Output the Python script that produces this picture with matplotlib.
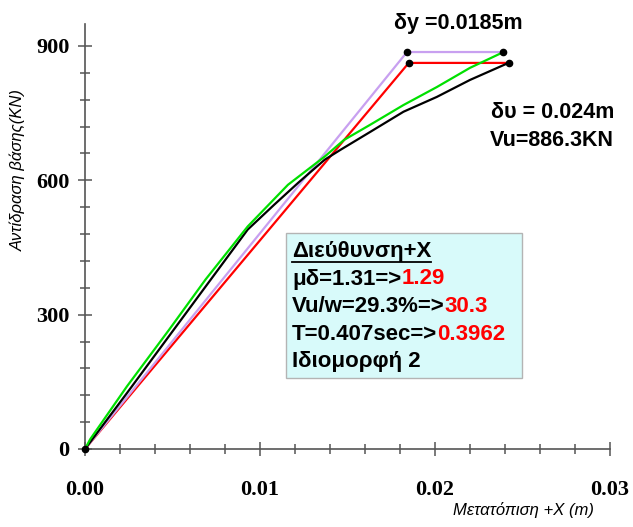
import matplotlib
matplotlib.use("Agg")
import matplotlib.pyplot as plt
from matplotlib.patches import Rectangle
from matplotlib.lines import Line2D
from matplotlib.ticker import MultipleLocator

# καμπύλη pushover (μαύρη) και εναλλακτική καμπύλη (πράσινη)
disp_black = [0.0, 0.0024, 0.0048, 0.0072, 0.0093, 0.0108, 0.0122, 0.0137, 0.0146,
              0.0163, 0.0182, 0.0201, 0.0220, 0.0242]
base_black = [0, 125, 252, 379, 490, 545, 595, 646, 668, 708, 753, 786, 824, 862]

disp_green = [0.0, 0.0003, 0.0024, 0.0048, 0.0069, 0.0093, 0.0116, 0.0137, 0.0148,
              0.0163, 0.0182, 0.0201, 0.0220, 0.0239]
base_green = [0, 22, 140, 266, 379, 497, 590, 653, 690, 724, 768, 808, 851, 886]

# διγραμμικές προσεγγίσεις
disp_purple = [0.0, 0.0184, 0.0239]
base_purple = [0, 886.3, 886.3]
disp_red = [0.0, 0.0185, 0.0242]
base_red = [0, 862, 862]

x_ticks = [0.00, 0.01, 0.02, 0.03]
y_ticks = [0, 300, 600, 900]

W, H = 633, 527
fig = plt.figure(figsize=(W / 100, H / 100), dpi=100)
fig.patch.set_facecolor("white")


def fx(px):
    return px / W


def fy(py):
    return 1 - py / H


ax = fig.add_axes([fx(85), fy(449), (610 - 85) / W, (449 - 23.5) / H])
ax.set_xlim(0, 0.03)
ax.set_ylim(0, 950)

ax.plot(disp_red, base_red, color="#ff0000", lw=1.6, zorder=3)
ax.plot(disp_purple, base_purple, color="#c8a0f0", lw=1.6, zorder=3)
ax.plot(disp_black, base_black, color="black", lw=1.6, zorder=4)
ax.plot(disp_green, base_green, color="#00e000", lw=1.6, zorder=5)

dots_x = [0.0, disp_purple[1], disp_purple[2], disp_red[1], disp_red[2]]
dots_y = [0, base_purple[1], base_purple[2], base_red[1], base_red[2]]
ax.plot(dots_x, dots_y, "o", color="black", ms=4.5, zorder=6, clip_on=False)

for s in ["top", "right"]:
    ax.spines[s].set_visible(False)
for s in ["left", "bottom"]:
    ax.spines[s].set_color("#555555")
    ax.spines[s].set_linewidth(1.2)

ax.set_xticks(x_ticks)
ax.set_yticks(y_ticks)
ax.set_xticklabels(["%.2f" % v for v in x_ticks])
ax.xaxis.set_minor_locator(MultipleLocator(0.002))
ax.yaxis.set_minor_locator(MultipleLocator(60))
ax.tick_params(which="major", direction="inout", length=10, width=1.1, color="#555555")
ax.tick_params(which="minor", direction="inout", length=7, width=1.1, color="#555555")
ax.tick_params(axis="x", which="major", pad=17)
ax.tick_params(axis="y", which="major", pad=6)
for lab in ax.get_xticklabels() + ax.get_yticklabels():
    lab.set_fontfamily("Liberation Serif")
    lab.set_fontweight("bold")
    lab.set_fontsize(16)

fig.text(fx(523), fy(510), "Μετατόπιση +X (m)", fontfamily="Liberation Sans",
         style="italic", fontsize=12, ha="center", va="center")
fig.text(fx(18), fy(170), "Αντίδραση βάσης(KN)", fontfamily="Liberation Sans",
         style="italic", fontsize=12, ha="center", va="center", rotation=90)

bold = dict(fontfamily="Liberation Sans", fontweight="bold", fontsize=15.5)
fig.text(fx(458), fy(23), "δy =0.0185m", ha="center", va="center", **bold)
fig.text(fx(553), fy(113), "δυ = 0.024m", ha="center", va="center", **bold)
fig.text(fx(552), fy(140), "Vu=886.3KN", ha="center", va="center", **bold)

# πλαίσιο αποτελεσμάτων
box = Rectangle((fx(286), fy(378)), (522 - 286) / W, (378 - 233) / H,
                transform=fig.transFigure, facecolor="#d8fafa",
                edgecolor="#b4b4b4", lw=1.0, zorder=1)
fig.patches.append(box)

box_font = dict(fontfamily="Liberation Sans", fontweight="bold", fontsize=16)
lines = [("Διεύθυνση+Χ", ""), ("μδ=1.31=>", "1.29"), ("Vu/w=29.3%=>", "30.3"),
         ("T=0.407sec=>", "0.3962"), ("Ιδιομορφή 2", "")]
line_y = [252, 279, 306, 334, 362]
texts = []
for (black_part, _), py in zip(lines, line_y):
    t = fig.text(fx(292), fy(py), black_part, ha="left", va="center",
                 color="black", zorder=2, **box_font)
    texts.append(t)

fig.canvas.draw()
# οι κόκκινες τιμές ακριβώς μετά το μαύρο κείμενο
for t, (_, red_part), py in zip(texts, lines, line_y):
    if red_part:
        bb = t.get_window_extent()
        fig.text(bb.x1 / W, fy(py), red_part, ha="left", va="center",
                 color="#ff0000", zorder=2, **box_font)

bb = texts[0].get_window_extent()
fig.add_artist(Line2D([bb.x0 / W, bb.x1 / W], [(bb.y0 + 1) / H, (bb.y0 + 1) / H],
                      transform=fig.transFigure, color="black", lw=1.3, zorder=2))

fig.savefig("out.png", dpi=100)
